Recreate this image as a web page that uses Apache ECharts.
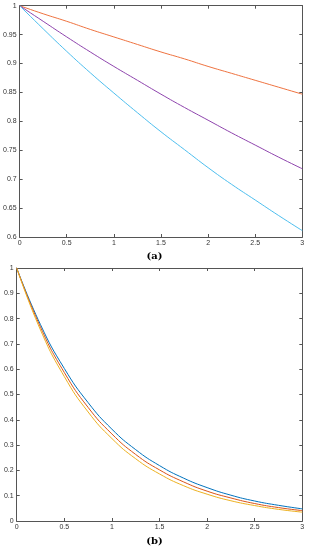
<!DOCTYPE html>
<html>
<head>
<meta charset="utf-8">
<script src="https://cdn.jsdelivr.net/npm/echarts@6/dist/echarts.min.js"></script>
<style>
html,body{margin:0;padding:0;background:#fff;}
#chart{width:309px;height:550px;}
</style>
</head>
<body>
<div id="chart"></div>
<script>
// x positions shared by all curves
var xValues = [0, 0.25, 0.5, 0.75, 1, 1.25, 1.5, 1.75, 2, 2.25, 2.5, 2.75, 3];
// panel (a)
var aOrange = [1, 0.986, 0.973, 0.959, 0.946, 0.933, 0.920, 0.908, 0.895, 0.883, 0.871, 0.859, 0.847];
var aPurple = [1, 0.973, 0.946, 0.920, 0.895, 0.871, 0.847, 0.824, 0.802, 0.780, 0.759, 0.738, 0.718];
var aCyan   = [1, 0.960, 0.921, 0.884, 0.849, 0.815, 0.782, 0.751, 0.720, 0.691, 0.664, 0.637, 0.611];
// panel (b)
var bBlue   = [1, 0.776, 0.603, 0.468, 0.363, 0.282, 0.219, 0.170, 0.132, 0.102, 0.079, 0.062, 0.048];
var bRed    = [1, 0.766, 0.587, 0.449, 0.344, 0.263, 0.202, 0.155, 0.118, 0.091, 0.069, 0.053, 0.041];
var bYellow = [1, 0.755, 0.571, 0.431, 0.326, 0.246, 0.186, 0.140, 0.106, 0.080, 0.061, 0.046, 0.035];
// captions
var captions = ['(a)', '(b)'];

function pairs(ys){ return xValues.map(function(x,i){ return [x, ys[i]]; }); }

var axisColor = '#555';
var labelStyle = {color:'#333', fontSize:7, fontFamily:'Liberation Sans'};
function fmt(v){ return String(+(+v).toFixed(2)); }

function xAx(grid, pos, showLabel){
  return {type:'value', gridIndex:grid, position:pos, min:0, max:3, interval:0.5,
    axisLine:{show:true, onZero:false, lineStyle:{color:axisColor, width:1}},
    axisTick:{show:true, inside:true, length:3, lineStyle:{color:axisColor}},
    axisLabel:Object.assign({show:showLabel, margin:3, formatter:fmt}, labelStyle),
    splitLine:{show:false}};
}
function yAx(grid, pos, showLabel, min, max, interval){
  return {type:'value', gridIndex:grid, position:pos, min:min, max:max, interval:interval,
    axisLine:{show:true, onZero:false, lineStyle:{color:axisColor, width:1}},
    axisTick:{show:true, inside:true, length:3, lineStyle:{color:axisColor}},
    axisLabel:Object.assign({show:showLabel, margin:3, formatter:fmt}, labelStyle),
    splitLine:{show:false}};
}
function line(name, ys, color, xi, yi){
  return {name:name, type:'line', data:pairs(ys), xAxisIndex:xi, yAxisIndex:yi,
    smooth:true, showSymbol:false, symbol:'none', lineStyle:{color:color, width:1}, itemStyle:{color:color}};
}

var chart = echarts.init(document.getElementById('chart'), null, {renderer:'canvas'});
chart.setOption({
  animation:false,
  backgroundColor:'#fff',
  title:[
    {text:captions[0], left:'center', top:251, padding:0, textStyle:{fontFamily:'DejaVu Serif', fontWeight:'bold', fontSize:10, color:'#000'}},
    {text:captions[1], left:'center', top:536, padding:0, textStyle:{fontFamily:'DejaVu Serif', fontWeight:'bold', fontSize:10, color:'#000'}}
  ],
  grid:[
    {left:19.5, right:6.7, top:5.7, height:231.3},
    {left:16.7, right:6.7, top:268, height:253}
  ],
  xAxis:[
    xAx(0,'bottom',true), xAx(0,'top',false),
    xAx(1,'bottom',true), xAx(1,'top',false)
  ],
  yAxis:[
    yAx(0,'left',true,0.6,1,0.05), yAx(0,'right',false,0.6,1,0.05),
    yAx(1,'left',true,0,1,0.1), yAx(1,'right',false,0,1,0.1)
  ],
  series:[
    line('a1', aOrange, '#EE7340', 0, 0),
    line('a2', aPurple, '#8E44AD', 0, 0),
    line('a3', aCyan, '#4DBEEE', 0, 0),
    line('b1', bBlue, '#0072BD', 2, 2),
    line('b2', bRed, '#D95319', 2, 2),
    line('b3', bYellow, '#EDB120', 2, 2)
  ]
});
</script>
</body>
</html>
